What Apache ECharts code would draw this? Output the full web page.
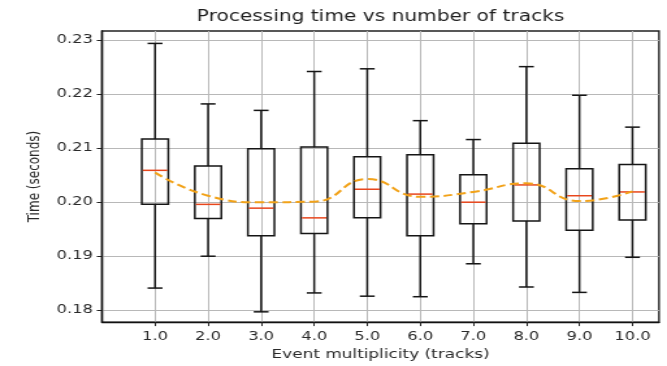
<!DOCTYPE html>
<html>
<head>
<meta charset="utf-8">
<script src="https://cdn.jsdelivr.net/npm/echarts@6/dist/echarts.min.js"></script>
<style>
  html, body { margin: 0; padding: 0; background: #ffffff; overflow: hidden; }
  #chart { width: 513px; height: 366px; transform: scaleX(1.30019); transform-origin: 0 0; }
</style>
</head>
<body>
<div id="chart"></div>
<script>
// ---- data ----
const positions    = [1, 2, 3, 4, 5, 6, 7, 8, 9, 10];
const xTickLabels  = ['1.0', '2.0', '3.0', '4.0', '5.0', '6.0', '7.0', '8.0', '9.0', '10.0'];
const yTicks       = [0.18, 0.19, 0.20, 0.21, 0.22, 0.23];
const whiskerLow   = [0.1841, 0.1900, 0.1797, 0.1832, 0.1826, 0.1825, 0.1886, 0.1843, 0.1833, 0.1898];
const quartile1    = [0.1996, 0.1970, 0.1938, 0.1942, 0.1971, 0.1938, 0.1960, 0.1965, 0.1948, 0.1967];
const medians      = [0.2059, 0.1996, 0.1989, 0.1971, 0.2024, 0.2015, 0.2000, 0.2032, 0.2012, 0.2019];
const quartile3    = [0.2117, 0.2067, 0.2099, 0.2102, 0.2084, 0.2088, 0.2051, 0.2109, 0.2062, 0.2070];
const whiskerHigh  = [0.2294, 0.2182, 0.2170, 0.2242, 0.2247, 0.2151, 0.2116, 0.2251, 0.2198, 0.2139];
const means        = [0.2055, 0.2012, 0.2000, 0.2001, 0.2043, 0.2010, 0.2019, 0.2035, 0.2002, 0.2020];

const titleText = 'Processing time vs number of tracks';
const xName = 'Event multiplicity (tracks)';
const yName = 'Time (seconds)';

// ---- build library data ----
const boxData = positions.map((p, i) => [p, whiskerLow[i], quartile1[i], medians[i], quartile3[i], whiskerHigh[i]]);
const meanData = positions.map((p, i) => [p, means[i]]);

const FONT = 'DejaVu Sans';
const BOX_W = 0.5;
const CAP_W = 0.28;
const EDGE = '#151515';

function renderBox(params, api) {
  const x = api.value(0);
  const lo = api.coord([x, api.value(1)]);
  const b1 = api.coord([x, api.value(2)]);
  const md = api.coord([x, api.value(3)]);
  const b3 = api.coord([x, api.value(4)]);
  const hi = api.coord([x, api.value(5)]);
  const bw = api.size([BOX_W, 0])[0];
  const cw = api.size([CAP_W, 0])[0];
  const cx = lo[0];
  const st = { stroke: EDGE, lineWidth: 1.5, fill: null };
  return {
    type: 'group',
    children: [
      { type: 'line', shape: { x1: cx, y1: hi[1], x2: cx, y2: b3[1] }, style: st },
      { type: 'line', shape: { x1: cx, y1: b1[1], x2: cx, y2: lo[1] }, style: st },
      { type: 'line', shape: { x1: cx - cw / 2, y1: hi[1], x2: cx + cw / 2, y2: hi[1] }, style: st },
      { type: 'line', shape: { x1: cx - cw / 2, y1: lo[1], x2: cx + cw / 2, y2: lo[1] }, style: st },
      { type: 'rect', shape: { x: cx - bw / 2, y: b3[1], width: bw, height: b1[1] - b3[1] }, style: { stroke: EDGE, lineWidth: 1.5, fill: 'rgba(0,0,0,0)' } },
      { type: 'line', shape: { x1: cx - bw / 2 + 0.8, y1: md[1], x2: cx + bw / 2 - 0.8, y2: md[1] }, style: { stroke: '#e8461c', lineWidth: 1.5 } }
    ]
  };
}

const chart = echarts.init(document.getElementById('chart'), null, { renderer: 'canvas' });
const GRID_LEFT = 78.45, GRID_RIGHT = 6.15, GRID_TOP = 31, GRID_BOTTOM = 43;
const gridCenterX = GRID_LEFT + (513 - GRID_LEFT - GRID_RIGHT) / 2;

chart.setOption({
  backgroundColor: '#ffffff',
  animation: false,
  graphic: [{
    type: 'text',
    x: gridCenterX,
    y: 17,
    style: {
      text: titleText,
      font: '15.5px "DejaVu Sans"',
      fill: '#1e1e1e',
      align: 'center',
      verticalAlign: 'middle',
      textAlign: 'center',
      textVerticalAlign: 'middle'
    }
  }],
  grid: {
    left: GRID_LEFT, right: GRID_RIGHT, top: GRID_TOP, bottom: GRID_BOTTOM,
    show: true, borderColor: '#222222', borderWidth: 1.4, backgroundColor: 'rgba(0,0,0,0)',
    containLabel: false
  },
  xAxis: {
    type: 'value',
    min: 0, max: 10.5, interval: 1,
    name: xName,
    nameLocation: 'middle',
    nameGap: 25,
    nameTextStyle: { fontFamily: FONT, fontSize: 13, color: '#2a2a2a' },
    axisLine: { show: true, lineStyle: { color: '#111', width: 1.4 } },
    axisTick: { show: true, inside: false, length: 4, lineStyle: { color: '#222', width: 1 }, customValues: positions },
    axisLabel: {
      show: true, margin: 8, fontFamily: FONT, fontSize: 12.5, color: '#2a2a2a',
      customValues: positions,
      formatter: v => { const i = positions.indexOf(Math.round(v)); return i >= 0 ? xTickLabels[i] : ''; }
    },
    splitLine: { show: true, lineStyle: { color: '#b8b8b8', width: 1 } }
  },
  yAxis: {
    type: 'value',
    min: 0.1778, max: 0.2317,
    name: yName,
    nameLocation: 'middle',
    nameGap: 42,
    nameTextStyle: { fontFamily: FONT, fontSize: 12, color: '#2a2a2a' },
    axisLine: { show: true, lineStyle: { color: '#111', width: 1.4 } },
    axisTick: { show: true, inside: false, length: 4, lineStyle: { color: '#222', width: 1 }, customValues: yTicks },
    axisLabel: {
      show: true, margin: 7, fontFamily: FONT, fontSize: 12.5, color: '#2a2a2a',
      customValues: yTicks,
      formatter: v => v.toFixed(2)
    },
    splitLine: { show: true, lineStyle: { color: '#b8b8b8', width: 1 } }
  },
  series: [
    {
      type: 'custom',
      name: 'boxes',
      renderItem: renderBox,
      encode: { x: 0, y: [1, 2, 3, 4, 5] },
      data: boxData,
      z: 3
    },
    {
      type: 'line',
      name: 'mean',
      data: meanData,
      smooth: 0.5,
      showSymbol: false,
      symbol: 'none',
      lineStyle: { color: '#f2a218', width: 2, type: [7, 3.5] },
      z: 4
    }
  ]
});
</script>
</body>
</html>
